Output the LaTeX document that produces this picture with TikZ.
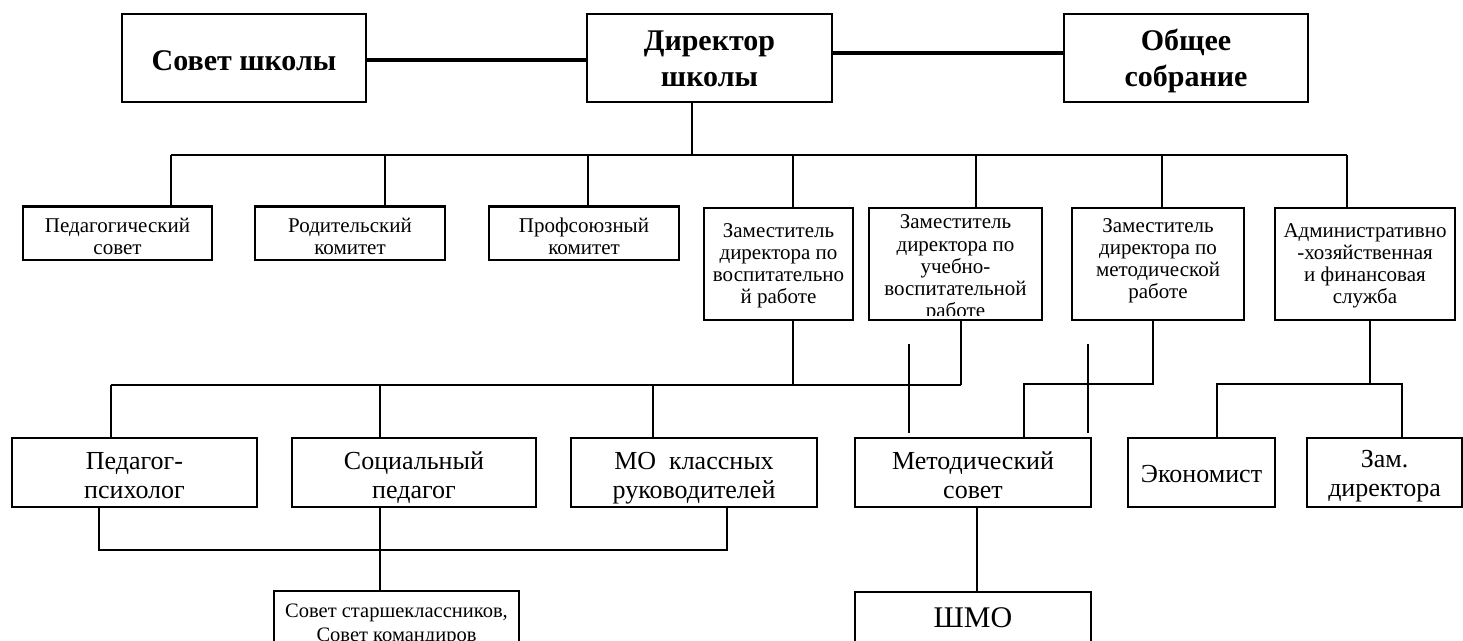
\documentclass[tikz,border=0pt]{standalone}
\usepackage{fontspec}
\setmainfont{Liberation Serif}
\newcommand\zsr[2]{\vrule width0pt height#1pt depth#2pt\relax}
\begin{document}
\begin{tikzpicture}[x=1pt,y=-1pt,
  bx/.style={draw, line width=2.5pt, inner sep=0pt, align=center, rectangle},
  tf/.style={font=\fontsize{30}{36}\selectfont\bfseries},
  ff/.style={font=\fontsize{21}{22.2}\selectfont},
  fr/.style={font=\fontsize{26}{29.5}\selectfont},
  fs/.style={font=\fontsize{20.5}{24}\selectfont},
  cn/.style={line width=2.2pt},
  tc/.style={line width=4.2pt}]
\useasboundingbox (0,0) rectangle (1463,640);

% top row
\node[bx,tf,minimum width=244,minimum height=88] (sovet) at (244,58) {\zsr{32.75}{8.75}Совет школы};
\node[bx,tf,minimum width=245,minimum height=88] (dir) at (709.5,58) {\zsr{29}{9}Директор\\\zsr{27}{9}школы};
\node[bx,tf,minimum width=244,minimum height=88] (obsh) at (1186,58) {\zsr{29}{9}Общее\\\zsr{27}{9}собрание};
\draw[tc] ([yshift=-2pt]sovet.east) -- ([yshift=-2pt]sovet.east -| dir.west);
\draw[tc] ([yshift=5pt]dir.east) -- ([yshift=5pt]dir.east -| obsh.west);

% second row
\node[bx,ff,minimum width=189,minimum height=50] (ps) at (117.5,233) {\zsr{25.75}{5.55}Педагогический\\\zsr{16.65}{5.55}совет};
\node[bx,ff,minimum width=190,minimum height=50] (rk) at (350,233) {\zsr{25.75}{5.55}Родительский\\\zsr{16.65}{5.55}комитет};
\node[bx,ff,minimum width=190,minimum height=50] (pk) at (584,233) {\zsr{25.75}{5.55}Профсоюзный\\\zsr{16.65}{5.55}комитет};
\node[bx,ff,minimum width=149,minimum height=112] (zv) at (778.5,264) {\zsr{18.15}{5.55}Заместитель\\\zsr{16.65}{5.55}директора по\\\zsr{16.65}{5.55}воспитательно\\\zsr{16.65}{5.55}й работе};
\node[bx,minimum width=173,minimum height=112] (zu) at (955.5,264) {};
\begin{scope}
  \clip ([yshift=6pt]zu.south west) rectangle (zu.north east);
  \node[ff,align=center,inner sep=0pt,anchor=north] (zut) at ([yshift=-5.35pt]zu.north) {\zsr{16.65}{5.55}Заместитель\\\zsr{16.65}{5.55}директора по\\\zsr{16.65}{5.55}учебно-\\\zsr{16.65}{5.55}воспитательной\\\zsr{16.65}{5.55}работе};
\end{scope}
\node[bx,ff,minimum width=172,minimum height=112] (zm) at (1158,264) {\zsr{16.65}{5.55}Заместитель\\\zsr{16.65}{5.55}директора по\\\zsr{16.65}{5.55}методической\\\zsr{16.65}{14.05}работе};
\node[bx,ff,minimum width=180,minimum height=112] (ad) at (1365,264) {\zsr{18.15}{5.55}Административно\\\zsr{16.65}{5.55}-хозяйственная\\\zsr{16.65}{5.55}и финансовая\\\zsr{16.65}{5.55}служба};

% top bus
\coordinate (d0) at (692,155);
\coordinate (tb1) at (171,155);
\coordinate (tb2) at (385,155);
\coordinate (tb3) at (588,155);
\coordinate (tb4) at (793,155);
\coordinate (tb5) at (976,155);
\coordinate (tb6) at (1162,155);
\coordinate (tb7) at (1347,155);
\draw[cn] (dir.south -| d0) -- (d0);
\draw[cn] (tb1) -- (tb7);
\draw[cn] (tb1) -- (tb1 |- ps.north);
\draw[cn] (tb2) -- (tb2 |- rk.north);
\draw[cn] (tb3) -- (tb3 |- pk.north);
\draw[cn] (tb4) -- (tb4 |- zv.north);
\draw[cn] (tb5) -- (tb5 |- zu.north);
\draw[cn] (tb6) -- (tb6 |- zm.north);
\draw[cn] (tb7) -- (tb7 |- ad.north);

% third row
\node[bx,fr,minimum width=245,minimum height=69] (pp) at (134.5,472.5) {\zsr{29.875}{7.375}Педагог-\\\zsr{22.125}{7.375}психолог};
\node[bx,fr,minimum width=244,minimum height=69] (sp) at (414,472.5) {\zsr{29.875}{7.375}Социальный\\\zsr{22.125}{7.375}педагог};
\node[bx,fr,minimum width=246,minimum height=69] (mo) at (694,472.5) {\zsr{29.875}{7.375}МО~ классных\\\zsr{22.125}{7.375}руководителей};
\node[bx,fr,minimum width=236,minimum height=69] (ms) at (973,472.5) {\zsr{29.875}{7.375}Методический\\\zsr{22.125}{7.375}совет};
\node[bx,fr,minimum width=147,minimum height=69] (ek) at (1201.5,472.5) {\zsr{26.375}{7.375}Экономист};
\node[bx,fr,minimum width=155,minimum height=69] (zd) at (1384.5,472.5) {\zsr{25.9}{7.375}Зам.\\\zsr{22.125}{7.375}директора};

% left bus
\coordinate (lb1) at (111,385);
\coordinate (lb2) at (380,385);
\coordinate (lb3) at (653,385);
\coordinate (lb4) at (793,385);
\coordinate (lb5) at (961,385);
\draw[cn] (lb1) -- (lb5);
\draw[cn] (zv.south -| lb4) -- (lb4);
\draw[cn] (zu.south -| lb5) -- (lb5);
\draw[cn] (lb1) -- (lb1 |- pp.north);
\draw[cn] (lb2) -- (lb2 |- sp.north);
\draw[cn] (lb3) -- (lb3 |- mo.north);

% crossing lines
\coordinate (x1a) at (909,344);
\coordinate (x1b) at (909,433);
\coordinate (x2a) at (1088,344);
\coordinate (x2b) at (1088,433);
\draw[cn] (x1a) -- (x1b);
\draw[cn] (x2a) -- (x2b);

% methodical deputy to council
\coordinate (rm1) at (1153,384);
\coordinate (rm2) at (1024,384);
\draw[cn] (zm.south -| rm1) -- (rm1) -- (rm2) -- (rm2 |- ms.north);

% admin
\coordinate (ab) at (1370,384);
\coordinate (ab1) at (1217,384);
\coordinate (ab2) at (1402,384);
\draw[cn] (ad.south -| ab) -- (ab);
\draw[cn] (ab1 |- ek.north) -- (ab1) -- (ab2) -- (ab2 |- zd.north);

% bottom row
\node[bx,fs,minimum width=245,minimum height=58] (sovst) at (396.5,620) {\zsr{24}{6}Совет старшеклассников,\\\zsr{18}{6}Совет командиров};
\node[bx,font=\fontsize{30}{35}\selectfont,minimum width=236,minimum height=52] (shmo) at (973,618) {ШМО};

\coordinate (bb1) at (99,550);
\coordinate (bb2) at (727,550);
\coordinate (bs) at (380,550);
\coordinate (bm) at (977,550);
\draw[cn] (pp.south -| bb1) -- (bb1) -- (bb2) -- (bb2 |- mo.south);
\draw[cn] (bs |- sp.south) -- (bs |- sovst.north);
\draw[cn] (bm |- ms.south) -- (bm |- shmo.north);
\end{tikzpicture}
\end{document}
